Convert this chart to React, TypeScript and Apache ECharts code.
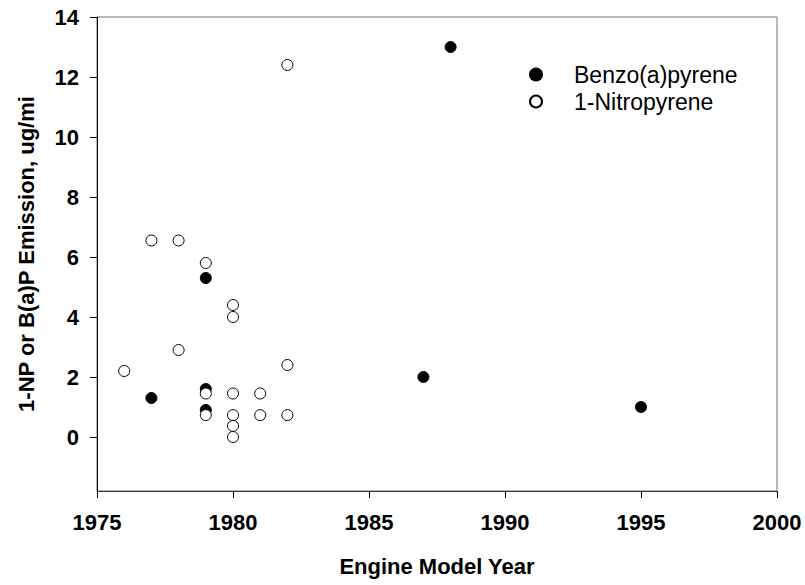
import React, { useEffect, useRef } from "react";
import * as echarts from "echarts";

const FONT = "'Liberation Sans', Arial, Helvetica, sans-serif";

// Benzo(a)pyrene (filled circles): [model year, emission ug/mi]
const benzoYears = [1977, 1979, 1979, 1979, 1987, 1988, 1995];
const benzoValues = [1.3, 5.3, 1.6, 0.9, 2.0, 13.0, 1.0];

// 1-Nitropyrene (open circles)
const nitroYears = [1976, 1977, 1978, 1978, 1979, 1979, 1979, 1980, 1980, 1980, 1980, 1980, 1980, 1981, 1981, 1982, 1982, 1982];
const nitroValues = [2.2, 6.55, 6.55, 2.9, 5.8, 1.45, 0.73, 4.4, 4.0, 1.45, 0.73, 0.37, 0.0, 1.45, 0.73, 12.4, 2.4, 0.73];

const yTicks = [0, 2, 4, 6, 8, 10, 12, 14];
const xTicks = [1975, 1980, 1985, 1990, 1995, 2000];

export default function App() {
  const ref = useRef<HTMLDivElement>(null);
  useEffect(() => {
    if (!ref.current) return;
    const chart = echarts.init(ref.current, undefined, { renderer: "svg" });
    const benzo = benzoYears.map((y, i) => [y, benzoValues[i]]);
    const nitro = nitroYears.map((y, i) => [y, nitroValues[i]]);
    chart.setOption({
      animation: false,
      backgroundColor: "#fff",
      textStyle: { fontFamily: FONT },
      grid: {
        left: 97,
        right: 28,
        top: 17,
        bottom: 94,
        show: true,
        borderColor: "#777",
        borderWidth: 1,
        backgroundColor: "transparent",
      },
      legend: {
        orient: "vertical",
        left: 524,
        top: 58,
        itemWidth: 66,
        itemHeight: 12,
        itemGap: 4,
        data: ["Benzo(a)pyrene", "1-Nitropyrene"],
        textStyle: { fontFamily: FONT, fontSize: 23, color: "#000" },
      },
      xAxis: {
        type: "value",
        min: 1975,
        max: 2000,
        interval: 5,
        name: "Engine Model Year",
        nameLocation: "middle",
        nameGap: 64,
        nameTextStyle: { fontFamily: FONT, fontSize: 22, fontWeight: "bold", color: "#000" },
        axisLine: { show: true, onZero: false, lineStyle: { color: "#333", width: 1 } },
        axisTick: { show: true, inside: false, length: 7, lineStyle: { color: "#000" } },
        axisLabel: {
          margin: 20,
          fontFamily: FONT,
          fontSize: 22,
          fontWeight: "bold",
          color: "#000",
          customValues: xTicks,
          formatter: (v: number) => String(v),
        },
        splitLine: { show: false },
      },
      yAxis: {
        type: "value",
        min: -1.8,
        max: 14,
        name: "1-NP or B(a)P Emission, ug/mi",
        nameLocation: "middle",
        nameGap: 60,
        nameTextStyle: { fontFamily: FONT, fontSize: 22, fontWeight: "bold", color: "#000" },
        axisLine: { show: true, onZero: false, lineStyle: { color: "#000", width: 1 } },
        axisTick: { show: true, inside: false, length: 7, lineStyle: { color: "#000" }, customValues: yTicks },
        axisLabel: {
          margin: 18,
          fontFamily: FONT,
          fontSize: 22,
          fontWeight: "bold",
          color: "#000",
          customValues: yTicks,
        },
        splitLine: { show: false },
      },
      series: [
        {
          name: "Benzo(a)pyrene",
          type: "scatter",
          data: benzo,
          symbol: "circle",
          symbolSize: 11,
          itemStyle: { color: "#000", borderColor: "#000", borderWidth: 1, opacity: 1 },
          z: 2,
        },
        {
          name: "1-Nitropyrene",
          type: "scatter",
          data: nitro,
          symbol: "circle",
          symbolSize: 11,
          itemStyle: { color: "#fff", borderColor: "#000", borderWidth: 1, opacity: 1 },
          z: 3,
        },
      ],
    });
    return () => chart.dispose();
  }, []);
  return (
    <div
      ref={ref}
      style={{ position: "absolute", left: 0, top: 0, width: 805, height: 585 }}
    />
  );
}
